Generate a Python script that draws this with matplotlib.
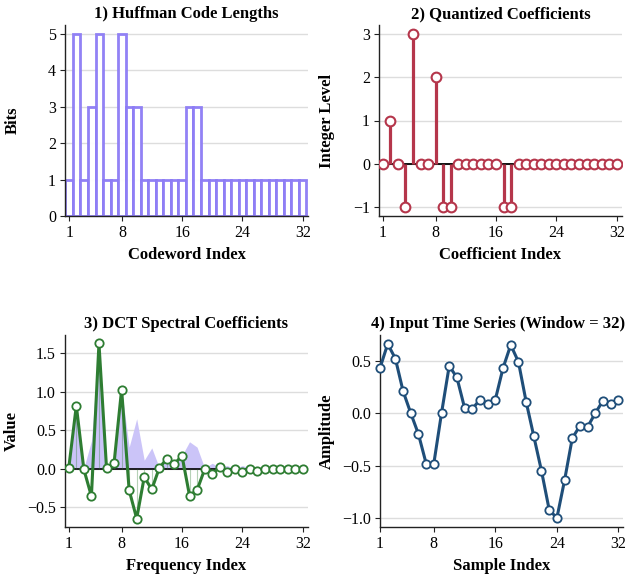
import numpy as np
import matplotlib
matplotlib.use("Agg")
import matplotlib.pyplot as plt

plt.rcParams['font.family'] = ['Liberation Serif', 'DejaVu Serif']
plt.rcParams['axes.unicode_minus'] = True

idx = list(range(1, 33))
huffman_bits = [1, 5, 1, 3, 5, 1, 1, 5, 3, 3, 1, 1, 1, 1, 1, 1,
                3, 3, 1, 1, 1, 1, 1, 1, 1, 1, 1, 1, 1, 1, 1, 1]
quantized = [0, 1, 0, -1, 3, 0, 0, 2, -1, -1, 0, 0, 0, 0, 0, 0,
             -1, -1, 0, 0, 0, 0, 0, 0, 0, 0, 0, 0, 0, 0, 0, 0]
dct_coeffs = [0.01, 0.82, -0.01, -0.36, 1.63, 0.01, 0.07, 1.03, -0.28, -0.65,
              -0.11, -0.27, 0.01, 0.13, 0.06, 0.17, -0.35, -0.28, -0.01, -0.07,
              0.02, -0.04, 0.00, -0.04, -0.01, -0.03, 0.00, -0.01, 0.00, -0.01,
              0.00, -0.01]
signal = [0.43, 0.66, 0.52, 0.21, 0.00, -0.20, -0.48, -0.48, 0.00, 0.45,
          0.34, 0.05, 0.04, 0.13, 0.09, 0.13, 0.43, 0.65, 0.49, 0.11,
          -0.22, -0.55, -0.92, -1.00, -0.64, -0.24, -0.12, -0.13, 0.00, 0.12,
          0.09, 0.13]
xticks = [1, 8, 16, 24, 32]

fig = plt.figure(figsize=(6.26, 5.76), dpi=100)

W, H = 626, 576
def box(l, r, t, b):
    return [l / W, 1 - b / H, (r - l) / W, (b - t) / H]

ax1 = fig.add_axes(box(65, 308, 25, 216))
ax2 = fig.add_axes(box(379, 622, 25, 216))
ax3 = fig.add_axes(box(65, 308, 335, 527))
ax4 = fig.add_axes(box(380, 623, 335, 527))

def style(ax, title, xlabel, ylabel, ylab_x, title_x=0.5):
    ax.set_title(title, fontsize=12, fontweight='bold', pad=5, x=title_x)
    ax.set_xlabel(xlabel, fontsize=12, fontweight='bold', labelpad=4)
    ax.set_ylabel(ylabel, fontsize=12, fontweight='bold')
    ax.yaxis.set_label_coords(ylab_x, 0.5)
    for s in ['top', 'right']:
        ax.spines[s].set_visible(False)
    for s in ['left', 'bottom']:
        ax.spines[s].set_color('#222222')
        ax.spines[s].set_linewidth(1.0)
    ax.yaxis.grid(True, color='#dddddd', linewidth=1.0)
    ax.set_axisbelow(True)
    ax.set_xticks(xticks)
    ax.tick_params(labelsize=11.5, length=3.5, width=0.8, color='#222222', pad=3)

# ylabel anchor (its right edge, since it is rotated) in axes fraction
def lab_x(fig_px, ax_left_px, ax_w_px=243):
    return (fig_px - ax_left_px) / ax_w_px

# 1) Huffman
ax1.bar(idx, huffman_bits, width=1.0, facecolor='white', edgecolor='#8c7bf5',
        linewidth=2.0, alpha=0.95)
ax1.set_xlim(0.45, 32.7)
ax1.set_ylim(0, 5.25)
ax1.set_yticks([0, 1, 2, 3, 4, 5])
style(ax1, '1) Huffman Code Lengths', 'Codeword Index', 'Bits', lab_x(21, 65))

# 2) Quantized
ax2.axhline(0, color='black', linewidth=1.3, zorder=2)
ax2.vlines(idx, 0, quantized, color='#b5364b', linewidth=2.3, zorder=3)
ax2.plot(idx, quantized, 'o', markersize=7, markerfacecolor='white',
         markeredgecolor='#b5364b', markeredgewidth=1.5, zorder=4)
ax2.set_xlim(0.5, 32.7)
ax2.set_ylim(-1.2, 3.2)
ax2.set_yticks([-1, 0, 1, 2, 3])
style(ax2, '2) Quantized Coefficients', 'Coefficient Index', 'Integer Level',
      lab_x(335, 379))

# 3) DCT
absd = np.abs(dct_coeffs)
ax3.fill_between(idx, 0, absd, color='#c9c1f8', alpha=0.95, linewidth=0, zorder=1)
ax3.axhline(0, color='black', linewidth=1.2, zorder=2)
ax3.vlines(idx, 0, dct_coeffs, color='#2e7d32', linewidth=0.8, alpha=0.35, zorder=2)
ax3.plot(idx, dct_coeffs, '-o', color='#2e7d32', linewidth=2.2, markersize=6,
         markerfacecolor='white', markeredgecolor='#2e7d32', markeredgewidth=1.3,
         zorder=4)
ax3.set_xlim(0.5, 32.7)
ax3.set_ylim(-0.76, 1.74)
ax3.set_yticks([-0.5, 0.0, 0.5, 1.0, 1.5])
ax3.set_yticklabels(['\u22120.5', '0.0', '0.5', '1.0', '1.5'])
style(ax3, '3) DCT Spectral Coefficients', 'Frequency Index', 'Value', lab_x(20, 65))

# 4) Time series
ax4.plot(idx, signal, '-o', color='#1f4e79', linewidth=2.2, markersize=6,
         markerfacecolor='white', markeredgecolor='#1f4e79', markeredgewidth=1.3,
         zorder=4, clip_on=False)
ax4.set_xlim(1, 32.6)
ax4.set_ylim(-1.085, 0.745)
ax4.set_yticks([-1.0, -0.5, 0.0, 0.5])
ax4.set_yticklabels(['\u22121.0', '\u22120.5', '0.0', '0.5'])
style(ax4, '4) Input Time Series (Window = 32)', 'Sample Index', 'Amplitude',
      lab_x(335, 380), title_x=0.485)

fig.savefig('out.png', dpi=100)
